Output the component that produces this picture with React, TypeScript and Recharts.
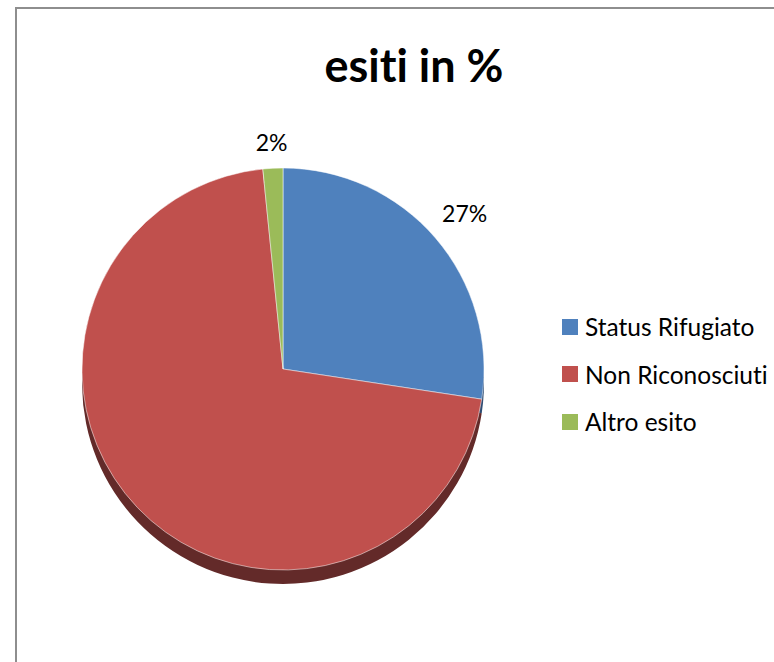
import React from 'react';
import { PieChart, Pie, Cell, Legend } from 'recharts';

const categories = ['Status Rifugiato', 'Non Riconosciuti', 'Altro esito'];
const values = [27.4, 71.0, 1.6];
const colors = ['#4f81bd', '#c0504d', '#9bbb59'];
const sideColors = ['#2f4d73', '#632a29', '#5d7034'];
// the red slice has no data label in the original
const labelShown = [true, false, true];

const W = 774;
const H = 662;
const CX = 283;
const CY = 369;
const R = 201;
const DEPTH = 14;
const FONT = 'Lato, "Open Sans", sans-serif';
const noLig: React.CSSProperties = { fontVariantLigatures: 'none', fontFeatureSettings: '"liga" 0' };

const data = categories.map((name, i) => ({ name, value: values[i] }));

const RADIAN = Math.PI / 180;

// place the label box so its nearest point sits a fixed gap outside the pie
const renderLabel = (props: any) => {
  const { cx, cy, midAngle, outerRadius, percent, index } = props;
  if (!labelShown[index]) return null;
  const text = `${Math.round(percent * 100)}%`;
  const fs = 23;
  const hw = (text.length * fs * 0.6) / 2;
  const hh = 10;
  const c = Math.cos(-midAngle * RADIAN);
  const s = Math.sin(-midAngle * RADIAN);
  const target = outerRadius + 16;
  let d = outerRadius;
  for (; d < outerRadius + 120; d += 0.5) {
    const bx = d * c;
    const by = d * s;
    const px = Math.max(bx - hw, Math.min(0, bx + hw));
    const py = Math.max(by - hh, Math.min(0, by + hh));
    if (Math.hypot(px, py) >= target) break;
  }
  return (
    <text
      x={cx + d * c}
      y={cy + d * s}
      fill="#000"
      fontSize={fs}
      fontFamily={FONT}
      textAnchor="middle"
      dominantBaseline="central"
      style={noLig}
    >
      {text}
    </text>
  );
};

const LegendBox = () => (
  <div style={{ fontFamily: FONT, fontSize: 24.5, color: '#000', ...noLig }}>
    {categories.map((name, i) => (
      <div key={name} style={{ display: 'flex', alignItems: 'center', height: 47.5 }}>
        <span style={{ width: 16, height: 16, background: colors[i], display: 'inline-block', marginRight: 7 }} />
        <span>{name}</span>
      </div>
    ))}
  </div>
);

export default function App() {
  return (
    <div style={{ position: 'absolute', left: 0, top: 0, width: W, height: H, background: '#fff', overflow: 'hidden' }}>
      <div
        style={{
          position: 'absolute',
          left: 15,
          top: 7,
          width: W,
          height: H,
          borderLeft: '2px solid #8e8e8e',
          borderTop: '2px solid #8e8e8e',
        }}
      />
      <svg width={W} height={120} style={{ position: 'absolute', left: 0, top: 0 }}>
        <text x={414} y={82} textAnchor="middle" fontFamily={FONT} fontWeight="bold" fontSize={45} fill="#000" style={noLig}>
          esiti in %
        </text>
      </svg>
      <div style={{ position: 'absolute', left: 0, top: 0 }}>
        <PieChart width={W} height={H} margin={{ top: 0, right: 0, bottom: 0, left: 0 }}>
          <Pie
            data={data}
            dataKey="value"
            nameKey="name"
            cx={CX}
            cy={CY + DEPTH}
            outerRadius={R}
            startAngle={90}
            endAngle={-270}
            stroke="none"
            isAnimationActive={false}
            legendType="none"
          >
            {data.map((d, i) => (
              <Cell key={`side-${i}`} fill={sideColors[i]} />
            ))}
          </Pie>
          <Pie
            data={data}
            dataKey="value"
            nameKey="name"
            cx={CX}
            cy={CY}
            outerRadius={R}
            startAngle={90}
            endAngle={-270}
            stroke="rgba(255,255,255,0.5)"
            strokeWidth={1}
            label={renderLabel}
            labelLine={false}
            isAnimationActive={false}
          >
            {data.map((d, i) => (
              <Cell key={`cell-${i}`} fill={colors[i]} />
            ))}
          </Pie>
          <Legend
            layout="vertical"
            content={<LegendBox />}
            wrapperStyle={{ position: 'absolute', left: 562, top: 303, width: 210 }}
          />
        </PieChart>
      </div>
    </div>
  );
}
